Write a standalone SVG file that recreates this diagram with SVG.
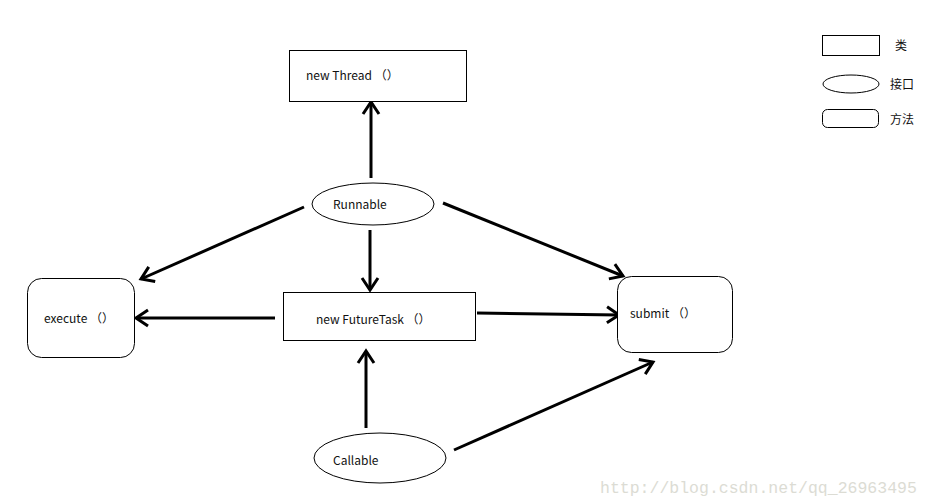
<svg xmlns="http://www.w3.org/2000/svg" width="928" height="501" viewBox="0 0 928 501">
<style>
.box{fill:#fff;stroke:#000;stroke-width:1}
.lg{fill:none;stroke:#000;stroke-width:1}
.t{font-family:"Noto Sans CJK SC","Noto Sans",sans-serif;font-size:12px;fill:#111}
.c{fill:none;stroke:#000;stroke-width:3;stroke-linecap:butt}
.wm{font-family:"Liberation Mono",monospace;font-size:16.5px;fill:#dcdcd4}
</style>
<defs>
<marker id="ah" markerUnits="userSpaceOnUse" markerWidth="30" markerHeight="30" refX="0" refY="0" viewBox="-15 -15 30 30" orient="auto">
<path d="M-12,-8 L0,0 L-12,8" fill="none" stroke="#000" stroke-width="3"/>
</marker>
</defs>
<rect width="928" height="501" fill="#fff"/>
<g id="connectors">
<line class="c" x1="371" y1="178" x2="371" y2="102" marker-end="url(#ah)"/>
<line class="c" x1="304" y1="207" x2="141" y2="279" marker-end="url(#ah)"/>
<line class="c" x1="443" y1="203" x2="623" y2="276" marker-end="url(#ah)"/>
<line class="c" x1="370" y1="230" x2="370" y2="290" marker-end="url(#ah)"/>
<line class="c" x1="275" y1="318" x2="136" y2="318" marker-end="url(#ah)"/>
<line class="c" x1="477" y1="313" x2="619" y2="315" marker-end="url(#ah)"/>
<line class="c" x1="366" y1="428" x2="366" y2="351" marker-end="url(#ah)"/>
<line class="c" x1="454" y1="450" x2="653" y2="362" marker-end="url(#ah)"/>
</g>
<g id="thread">
<rect class="box" x="289.5" y="50.5" width="177" height="51"/>
<text class="t" x="306" y="80">new Thread （）</text>
</g>
<g id="runnable">
<ellipse class="box" cx="373" cy="204" rx="61" ry="21"/>
<text class="t" x="333" y="209">Runnable</text>
</g>
<g id="execute">
<rect class="box" x="27.5" y="278.5" width="107" height="79" rx="14"/>
<text class="t" x="44" y="323">execute （）</text>
</g>
<g id="futuretask">
<rect class="box" x="283.5" y="292.5" width="192" height="48"/>
<text class="t" x="316" y="324">new FutureTask （）</text>
</g>
<g id="submit">
<rect class="box" x="617.5" y="276.5" width="115" height="76" rx="14"/>
<text class="t" x="630" y="318">submit （）</text>
</g>
<g id="callable">
<ellipse class="box" cx="380" cy="458" rx="66" ry="25"/>
<text class="t" x="333" y="465">Callable</text>
</g>
<g id="legend">
<rect class="lg" x="822.5" y="35.5" width="57" height="20"/>
<text class="t" x="895" y="50">类</text>
<ellipse class="lg" cx="851" cy="84" rx="28" ry="9"/>
<text class="t" x="890" y="89">接口</text>
<rect class="lg" x="822.5" y="109.5" width="56" height="18" rx="5"/>
<text class="t" x="890" y="124">方法</text>
</g>
<text class="wm" x="600" y="493">http://blog.csdn.net/qq_26963495</text>
</svg>
